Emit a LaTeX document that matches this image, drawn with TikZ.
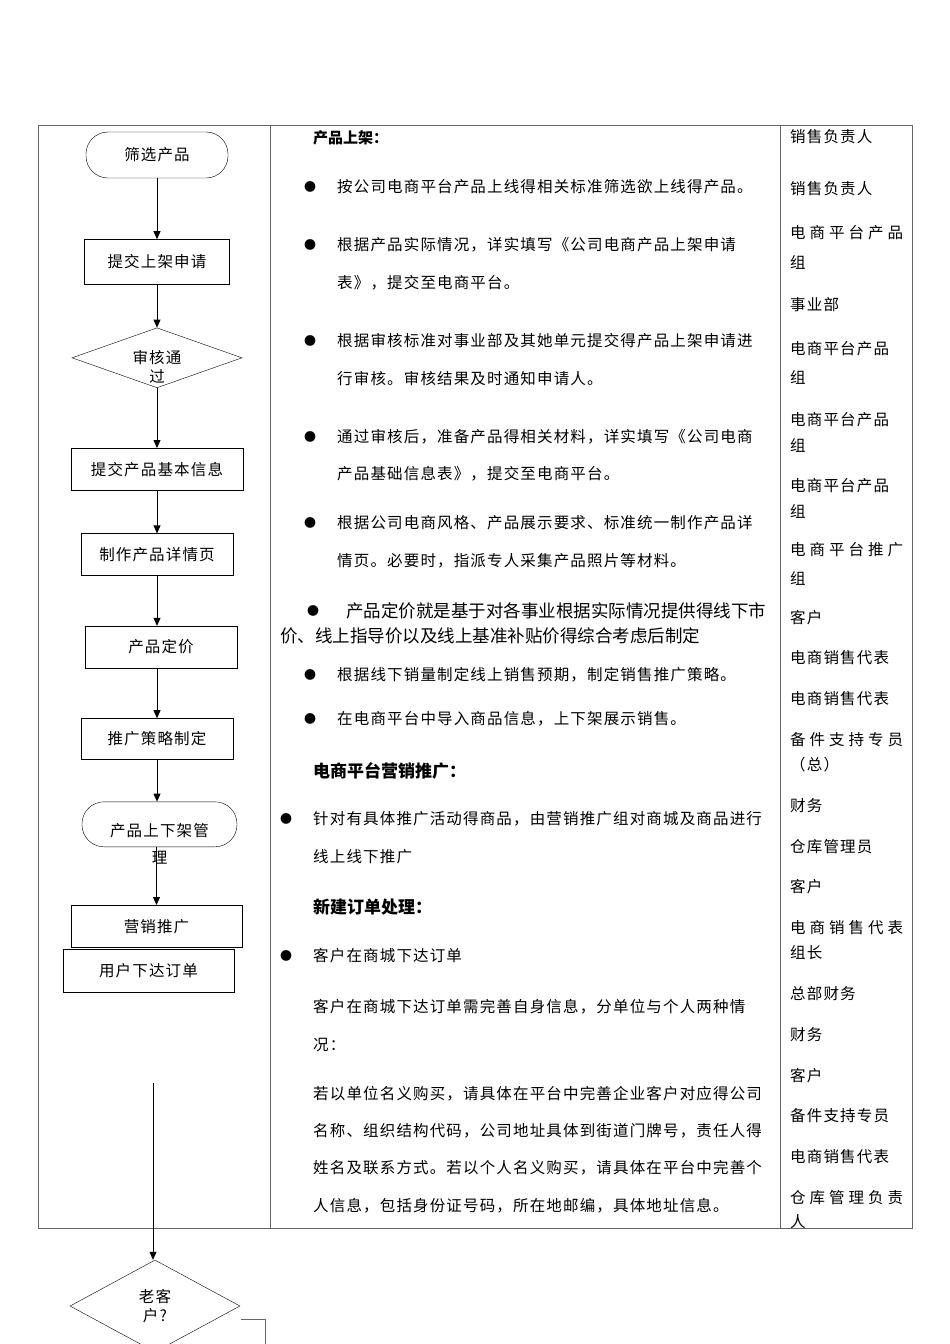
\documentclass[tikz,border=0pt]{standalone}
\usepackage{fontspec}
\setmainfont{Noto Sans CJK SC}
\newfontfamily\cjkwide{Noto Sans CJK SC}[LetterSpace=7.5]
\usetikzlibrary{arrows.meta,positioning,shapes.geometric}

\newcommand{\spreadrole}[1]{\makebox[113pt][s]{#1}}

\begin{document}
\begin{tikzpicture}[
  x=1pt,y=-1pt,
  >={Triangle[length=8pt,width=7pt]},
  txt/.style={font=\cjkwide\fontsize{15.5pt}{19pt}\selectfont},
  term/.style={draw,rounded corners=22pt,minimum width=142pt,minimum height=46pt,inner sep=0pt,txt},
  proc/.style={draw,minimum width=152pt,minimum height=42pt,inner sep=0pt,txt},
  dec/.style={draw,diamond,minimum width=170pt,minimum height=60pt,inner sep=0pt,txt,align=center},
  line/.style={anchor=west,inner sep=0pt,txt},
  dot/.style={anchor=west,inner sep=0pt,font=\fontsize{12pt}{12pt}\selectfont},
  head/.style={anchor=west,inner sep=0pt,font=\bfseries\fontsize{17pt}{20pt}\selectfont},
  grid/.style={draw=black!60,line width=0.9pt},
  edge/.style={->,line width=0.8pt}
]
\useasboundingbox[fill=white] (0,0) rectangle (950,1344);

% table frame
\draw[grid] (38,125) rectangle (912,1228);
\draw[grid] (270,125) -- (270,1228);
\draw[grid] (780,125) -- (780,1228);

% flow chart
\node[term] (sel) at (157,155) {筛选产品};
\node[proc,minimum width=145pt,minimum height=45pt,below=61pt of sel] (sub) {提交上架申请};
\node[dec,below=43pt of sub] (chk) {};
\node[txt,inner sep=0pt,align=center] (chklbl) at ([yshift=-9.5pt]chk.center) {审核通\\过};
\node[proc,minimum width=172pt,below=60pt of chk] (info) {提交产品基本信息};
\node[proc,below=43pt of info] (page) {制作产品详情页};
\node[proc,below=50pt of page,xshift=4pt] (price) {产品定价};
\node[proc,minimum height=41pt,below=50pt of price,xshift=-4pt] (plan) {推广策略制定};
\node[term,minimum width=155pt,minimum height=45pt,below=42pt of plan,xshift=2.5pt] (shelf) {};
\node[txt,inner sep=0pt,align=center] (shelflbl) at ([yshift=-20pt]shelf.center) {产品上下架管\\[8pt]理};
\node[proc,minimum width=171pt,below=58pt of shelf,xshift=-3pt] (promo) {营销推广};
\node[proc,minimum width=171pt,minimum height=43pt,below=2pt of promo,xshift=-8pt] (order) {用户下达订单};
\node[dec,minimum height=92pt] (old) at (155,1306) {老客\\户?};

\draw[edge] (sel.south) -- (sel.south |- sub.north);
\draw[edge] (sub.south) -- (sub.south |- chk.north);
\draw[edge] (chk.south) -- (chk.south |- info.north);
\draw[edge] (info.south) -- (info.south |- page.north);
\draw[edge] (page.south) -- (page.south |- price.north);
\draw[edge] (price.south-|page.south) -- (page.south |- plan.north);
\draw[edge] (plan.south) -- (plan.south |- shelf.north);
\draw[edge] ([xshift=-3pt]shelf.south) -- ([xshift=-3pt]shelf.south |- promo.north);
\coordinate (ordend) at (153,1083);
\draw[edge] (ordend) -- (ordend |- old.north);
\coordinate (oldout) at ([xshift=1pt,yshift=-13pt]old.east);
\coordinate (noend) at (265,1350);
\draw[draw=black!60,line width=0.9pt] (oldout) -| (noend);

% description column
\node[head,font=\bfseries\fontsize{15pt}{18pt}\selectfont] (h1) at (313,138) {产品上架：};
\node[head] (h2) at (313,771) {电商平台营销推广：};
\node[head] (h3) at (313,907) {新建订单处理：};
\foreach \x/\y [count=\i] in {304/187,304/245,304/341,304/437,304/523,307/611,304/675,304/719,280/819,280/956}
  \node[dot] (dot\i) at (\x,\y) {●};
\node[anchor=west,inner sep=0pt,font=\fontsize{17.5pt}{20pt}\selectfont] (pr1) at (346,611) {产品定价就是基于对各事业根据实际情况提供得线下市};
\node[anchor=west,inner sep=0pt,font=\fontsize{17.5pt}{20pt}\selectfont] (pr2) at (280,636) {价、线上指导价以及线上基准补贴价得综合考虑后制定};
\foreach \x/\y/\t [count=\i] in {
  337/187/按公司电商平台产品上线得相关标准筛选欲上线得产品。,
  337/245/根据产品实际情况，详实填写《公司电商产品上架申请,
  337/283/表》，提交至电商平台。,
  337/341/根据审核标准对事业部及其她单元提交得产品上架申请进,
  337/379/行审核。审核结果及时通知申请人。,
  337/437/通过审核后，准备产品得相关材料，详实填写《公司电商,
  337/474/产品基础信息表》，提交至电商平台。,
  337/523/根据公司电商风格、产品展示要求、标准统一制作产品详,
  337/561/情页。必要时，指派专人采集产品照片等材料。,
  337/675/根据线下销量制定线上销售预期，制定销售推广策略。,
  337/719/在电商平台中导入商品信息，上下架展示销售。,
  313/819/针对有具体推广活动得商品，由营销推广组对商城及商品进行,
  313/857/线上线下推广,
  313/956/客户在商城下达订单,
  313/1007/客户在商城下达订单需完善自身信息，分单位与个人两种情,
  313/1045/况：,
  313/1094/若以单位名义购买，请具体在平台中完善企业客户对应得公司,
  313/1131/名称、组织结构代码，公司地址具体到街道门牌号，责任人得,
  313/1168/姓名及联系方式。若以个人名义购买，请具体在平台中完善个,
  313/1206/人信息，包括身份证号码，所在地邮编，具体地址信息。}
  \node[line] (desc\i) at (\x,\y) {\t};

% role column
\foreach \y/\t [count=\i] in {
  137/销售负责人, 189/销售负责人, 233/{\spreadrole{电 商 平 台 产 品}}, 262/组,
  305/事业部, 349/电商平台产品, 377/组, 420/电商平台产品, 445/组,
  486/电商平台产品, 511/组, 550/{\spreadrole{电 商 平 台 推 广}}, 578/组,
  618/客户, 658/电商销售代表, 699/电商销售代表, 740/{\spreadrole{备 件 支 持 专 员}},
  765/（总）, 806/财务, 847/仓库管理员, 887/客户,
  928/{\spreadrole{电 商 销 售 代 表}}, 953/组长, 994/总部财务, 1035/财务,
  1076/客户, 1116/备件支持专员, 1157/电商销售代表,
  1198/{\spreadrole{仓 库 管 理 负 责}}, 1222/人}
  \node[line] (role\i) at (790,\y) {\t};
\end{tikzpicture}
\end{document}
